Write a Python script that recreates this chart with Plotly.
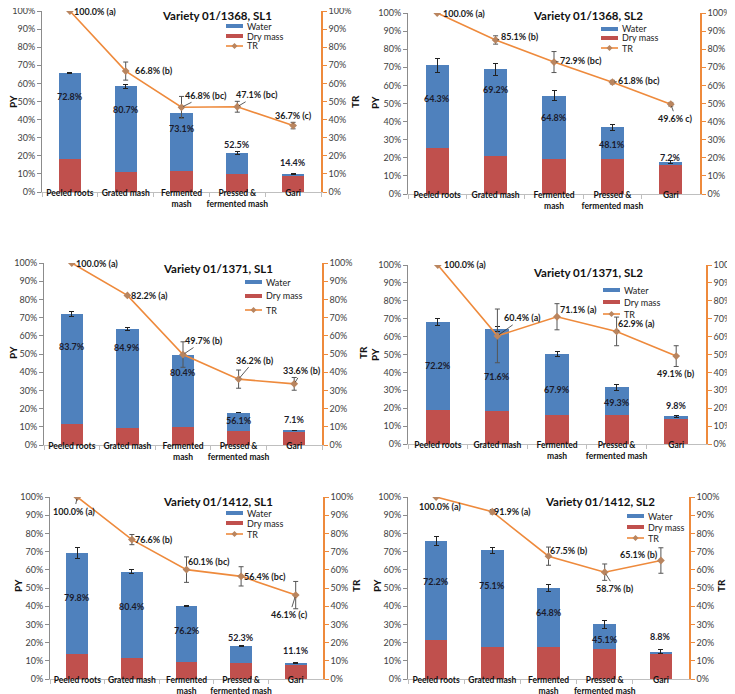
import plotly.graph_objects as go

W, H = 735, 694
FONT = "Lato"

categories = ["Peeled roots", "Grated mash", "Fermented<br>mash", "Pressed &<br>fermented mash", "Gari"]
series_names = ["Water", "Dry mass", "TR"]
tick_vals = [0, 10, 20, 30, 40, 50, 60, 70, 80, 90, 100]
tick_text = ["0%", "10%", "20%", "30%", "40%", "50%", "60%", "70%", "80%", "90%", "100%"]

# ---- Variety 01/1368, SL1
title_1368_sl1 = "Variety 01/1368, SL1"
dry_1368_sl1 = [18.0, 11.3, 11.8, 10.2, 8.7]
water_1368_sl1 = [48.0, 47.0, 31.9, 11.3, 1.5]
py_err_1368_sl1 = [0.3, 1.0, 2.5, 0.8, 0.3]
tr_1368_sl1 = [100.0, 66.8, 46.8, 47.1, 36.7]
tr_err_1368_sl1 = [0, 5.0, 6.0, 3.0, 1.8]
moist_lbl_1368_sl1 = ["72.8%", "80.7%", "73.1%", "52.5%", "14.4%"]
tr_lbl_1368_sl1 = ["100.0% (a)", "66.8% (b)", "46.8% (bc)", "47.1% (bc)", "36.7% (c)"]

# ---- Variety 01/1368, SL2
title_1368_sl2 = "Variety 01/1368, SL2"
dry_1368_sl2 = [25.3, 21.2, 19.1, 19.1, 16.3]
water_1368_sl2 = [45.7, 47.8, 35.2, 17.7, 1.3]
py_err_1368_sl2 = [4.0, 3.3, 2.7, 1.5, 0.8]
tr_1368_sl2 = [100.0, 85.1, 72.9, 61.8, 49.6]
tr_err_1368_sl2 = [0, 2.3, 5.8, 1.0, 1.0]
moist_lbl_1368_sl2 = ["64.3%", "69.2%", "64.8%", "48.1%", "7.2%"]
tr_lbl_1368_sl2 = ["100.0% (a)", "85.1% (b)", "72.9% (bc)", "61.8% (bc)", "49.6% c)"]

# ---- Variety 01/1371, SL1
title_1371_sl1 = "Variety 01/1371, SL1"
dry_1371_sl1 = [11.7, 9.6, 9.7, 7.8, 7.3]
water_1371_sl1 = [60.1, 54.2, 39.8, 10.0, 0.6]
py_err_1371_sl1 = [1.3, 1.0, 0.5, 0.2, 0.2]
tr_1371_sl1 = [100.0, 82.2, 49.7, 36.2, 33.6]
tr_err_1371_sl1 = [0, 0, 7.0, 5.0, 3.5]
moist_lbl_1371_sl1 = ["83.7%", "84.9%", "80.4%", "56.1%", "7.1%"]
tr_lbl_1371_sl1 = ["100.0% (a)", "82.2% (a)", "49.7% (b)", "36.2% (b)", "33.6% (b)"]

# ---- Variety 01/1371, SL2
title_1371_sl2 = "Variety 01/1371, SL2"
dry_1371_sl2 = [18.9, 18.2, 16.1, 16.0, 14.0]
water_1371_sl2 = [49.1, 46.0, 34.2, 15.6, 1.5]
py_err_1371_sl2 = [2.0, 1.5, 1.5, 1.5, 0.5]
tr_1371_sl2 = [100.0, 60.4, 71.1, 62.9, 49.1]
tr_err_1371_sl2 = [0, 15.0, 7.3, 8.0, 5.8]
moist_lbl_1371_sl2 = ["72.2%", "71.6%", "67.9%", "49.3%", "9.8%"]
tr_lbl_1371_sl2 = ["100.0% (a)", "60.4% (a)", "71.1% (a)", "62.9% (a)", "49.1% (b)"]

# ---- Variety 01/1412, SL1
title_1412_sl1 = "Variety 01/1412, SL1"
dry_1412_sl1 = [13.9, 11.6, 9.5, 8.6, 7.7]
water_1412_sl1 = [55.1, 47.4, 30.5, 9.4, 1.0]
py_err_1412_sl1 = [3.0, 1.2, 0.3, 0.4, 0.3]
tr_1412_sl1 = [100.0, 76.6, 60.1, 56.4, 46.1]
tr_err_1412_sl1 = [0, 2.8, 7.0, 5.3, 7.5]
moist_lbl_1412_sl1 = ["79.8%", "80.4%", "76.2%", "52.3%", "11.1%"]
tr_lbl_1412_sl1 = ["100.0% (a)", "76.6% (b)", "60.1% (bc)", "56.4% (bc)", "46.1% (c)"]

# ---- Variety 01/1412, SL2
title_1412_sl2 = "Variety 01/1412, SL2"
dry_1412_sl2 = [21.2, 17.6, 17.6, 16.5, 13.7]
water_1412_sl2 = [54.8, 53.1, 32.4, 13.5, 1.3]
py_err_1412_sl2 = [2.5, 1.5, 2.0, 2.0, 1.2]
tr_1412_sl2 = [100.0, 91.9, 67.5, 58.7, 65.1]
tr_err_1412_sl2 = [0, 1.2, 5.0, 4.5, 7.0]
moist_lbl_1412_sl2 = ["72.2%", "75.1%", "64.8%", "45.1%", "8.8%"]
tr_lbl_1412_sl2 = ["100.0% (a)", "91.9% (a)", "67.5% (b)", "58.7% (b)", "65.1% (b)"]

panels = [
    dict(title=title_1368_sl1, dry=dry_1368_sl1, water=water_1368_sl1, py_err=py_err_1368_sl1,
         tr=tr_1368_sl1, tr_err=tr_err_1368_sl1, mlbl=moist_lbl_1368_sl1, tlbl=tr_lbl_1368_sl1),
    dict(title=title_1368_sl2, dry=dry_1368_sl2, water=water_1368_sl2, py_err=py_err_1368_sl2,
         tr=tr_1368_sl2, tr_err=tr_err_1368_sl2, mlbl=moist_lbl_1368_sl2, tlbl=tr_lbl_1368_sl2),
    dict(title=title_1371_sl1, dry=dry_1371_sl1, water=water_1371_sl1, py_err=py_err_1371_sl1,
         tr=tr_1371_sl1, tr_err=tr_err_1371_sl1, mlbl=moist_lbl_1371_sl1, tlbl=tr_lbl_1371_sl1),
    dict(title=title_1371_sl2, dry=dry_1371_sl2, water=water_1371_sl2, py_err=py_err_1371_sl2,
         tr=tr_1371_sl2, tr_err=tr_err_1371_sl2, mlbl=moist_lbl_1371_sl2, tlbl=tr_lbl_1371_sl2),
    dict(title=title_1412_sl1, dry=dry_1412_sl1, water=water_1412_sl1, py_err=py_err_1412_sl1,
         tr=tr_1412_sl1, tr_err=tr_err_1412_sl1, mlbl=moist_lbl_1412_sl1, tlbl=tr_lbl_1412_sl1),
    dict(title=title_1412_sl2, dry=dry_1412_sl2, water=water_1412_sl2, py_err=py_err_1412_sl2,
         tr=tr_1412_sl2, tr_err=tr_err_1412_sl2, mlbl=moist_lbl_1412_sl2, tlbl=tr_lbl_1412_sl2),
]

# ---- layout geometry (pixels): plot area x0, x1, y_top, y_bottom
geom = [(34, 313, 3, 184), (400, 692, 5, 186),
        (36, 314, 255, 437), (400, 698, 257, 436),
        (42, 315, 489, 671), (400, 681, 489, 671)]
title_pos = [(209, 8), (580, 8), (210, 260), (580, 264), (210, 493), (592, 493)]
# legend: swatch left x, then y of the three rows
legend_rows = [(218, (18, 28, 38)), (593, (21, 30, 40)),
               (237, (274, 288, 302)), (595, (282, 294, 306)),
               (218, (505, 515, 526)), (619, (508, 519, 530))]
py_title_pos = [(5, 94), (367, 95), (5, 345), (367, 347), (10, 578), (369, 578)]
tr_title_pos = [(347, 94), (727, 95), (355, 345), (728, 347), (348, 578), (713, 578)]
# y position (in PY units) of moisture labels
mlbl_y = [[52.8, 45.5, 34.9, 26.2, 16.5],
          [52.5, 57.8, 42.4, 27.1, 20.2],
          [54.1, 53.6, 40.0, 13.2, 13.8],
          [43.9, 37.7, 30.7, 23.0, 21.6],
          [44.8, 40.0, 26.4, 22.9, 15.8],
          [53.8, 51.6, 36.3, 21.6, 23.6]]
# pixel offsets (dx, dy, leader) of TR labels
tlbl_off = [[(25, 1, 0), (28, -1, 0), (24, -12, 1), (20, -12, 1), (0, -10, 1)],
            [(27, 0, 0), (24, -3, 1), (27, -2, 1), (27, -2, 1), (5, 14, 1)],
            [(25, 0, 0), (22, 0, 0), (21, -14, 1), (16, -19, 1), (8, -13, 1)],
            [(27, 0, 0), (25, -18, 1), (21, -7, 0), (20, -8, 1), (0, 17, 0)],
            [(-3, 14, 1), (22, 0, 0), (22, -8, 0), (24, 0, 0), (-6, 19, 1)],
            [(4, 9, 0), (20, 0, 0), (20, -6, 0), (10, 16, 1), (-22, -6, 1)]]

BLUE = "#4F81BD"
RED = "#C0504D"
ORANGE = "#EE8A3C"
MARKER = "#B9855F"

fig = go.Figure()
annotations = []
shapes = []
layout = {}


def px(x):
    return x / W


def py(y):
    return 1 - y / H


for i, p in enumerate(panels, start=1):
    xa = "x" if i == 1 else f"x{i}"
    yl = "y" if i == 1 else f"y{2 * i - 1}"
    yr = f"y{2 * i}"
    x0, x1, yt, yb = geom[i - 1]

    fig.add_trace(go.Bar(x=categories, y=p["dry"], xaxis=xa, yaxis=yl, name=series_names[1],
                         marker=dict(color=RED, line=dict(width=0)), showlegend=False))
    fig.add_trace(go.Bar(x=categories, y=p["water"], xaxis=xa, yaxis=yl, name=series_names[0],
                         marker=dict(color=BLUE, line=dict(width=0)), showlegend=False,
                         error_y=dict(type="data", array=p["py_err"], color="#222222",
                                      thickness=1, width=2.5)))
    fig.add_trace(go.Scatter(x=categories, y=p["tr"], xaxis=xa, yaxis=yr, name=series_names[2],
                             mode="lines+markers", line=dict(color=ORANGE, width=1.6),
                             marker=dict(symbol="diamond", size=6, color=MARKER),
                             error_y=dict(type="data", array=p["tr_err"], color="#555555",
                                          thickness=1, width=2.5),
                             showlegend=False))

    xkey = "xaxis" if i == 1 else f"xaxis{i}"
    ylkey = "yaxis" if i == 1 else f"yaxis{2 * i - 1}"
    yrkey = f"yaxis{2 * i}"
    layout[xkey] = dict(domain=[px(x0), px(x1)], anchor=yl, type="category",
                        categoryorder="array", categoryarray=categories,
                        range=[-0.5, 4.5], showline=True, linecolor="#BFBFBF", linewidth=1,
                        ticks="outside", tickson="boundaries", ticklen=4, tickcolor="#BFBFBF",
                        showgrid=False, zeroline=False, tickangle=0, automargin=False,
                        ticklabeloverflow="allow", ticklabelstandoff=-7,
                        tickfont=dict(family=FONT, size=8.5, color="#111111", weight="bold"))
    layout[ylkey] = dict(domain=[py(yb), py(yt)], anchor=xa, range=[0, 100],
                         tickvals=tick_vals, ticktext=tick_text, showline=True,
                         linecolor="#8C8C8C", linewidth=1, ticks="outside", ticklen=4,
                         tickcolor="#8C8C8C", showgrid=False, zeroline=False, automargin=False,
                         ticklabeloverflow="allow",
                         tickfont=dict(family=FONT, size=9, color="#404040"))
    layout[yrkey] = dict(overlaying=yl, side="right", anchor=xa, range=[0, 100],
                         tickvals=tick_vals, ticktext=tick_text, showline=True,
                         linecolor=ORANGE, linewidth=1.5, ticks="outside", ticklen=4,
                         tickcolor=ORANGE, showgrid=False, zeroline=False, automargin=False,
                         ticklabeloverflow="allow",
                         tickfont=dict(family=FONT, size=9, color="#404040"))

    # compact legend
    sx, rows = legend_rows[i - 1]
    for k, (name, ry) in enumerate(zip(series_names, rows)):
        if k < 2:
            shapes.append(dict(type="rect", xref="paper", yref="paper",
                               x0=px(sx), x1=px(sx + 17), y0=py(ry + 2), y1=py(ry - 2),
                               fillcolor=BLUE if k == 0 else RED, line=dict(width=0)))
        else:
            shapes.append(dict(type="line", xref="paper", yref="paper",
                               x0=px(sx), x1=px(sx + 17), y0=py(ry), y1=py(ry),
                               line=dict(color=ORANGE, width=1.6)))
            cx = sx + 8.5
            shapes.append(dict(type="path", xref="paper", yref="paper",
                               path=f"M{px(cx - 3)},{py(ry)} L{px(cx)},{py(ry - 3)} "
                                    f"L{px(cx + 3)},{py(ry)} L{px(cx)},{py(ry + 3)} Z",
                               fillcolor=MARKER, line=dict(width=0)))
        annotations.append(dict(text=name, x=px(sx + 19), y=py(ry), xref="paper", yref="paper",
                                showarrow=False, xanchor="left", yanchor="middle",
                                font=dict(family=FONT, size=9, color="#222222")))

    tx, ty = title_pos[i - 1]
    annotations.append(dict(text=f"<b>{p['title']}</b>", x=px(tx), y=py(ty), xref="paper",
                            yref="paper", showarrow=False, xanchor="center", yanchor="middle",
                            font=dict(family=FONT, size=11.5, color="#111111")))
    for (ax_, ay_), txt in ((py_title_pos[i - 1], "PY"), (tr_title_pos[i - 1], "TR")):
        annotations.append(dict(text=f"<b>{txt}</b>", x=px(ax_), y=py(ay_), xref="paper",
                                yref="paper", showarrow=False, textangle=-90,
                                xanchor="center", yanchor="middle",
                                font=dict(family=FONT, size=10, color="#111111")))
    for j, c in enumerate(categories):
        annotations.append(dict(text=f"<b>{p['mlbl'][j]}</b>", x=c, y=mlbl_y[i - 1][j],
                                xref=xa, yref=yl, showarrow=False,
                                font=dict(family=FONT, size=9, color="#1B1B2B")))
        dx, dy, lead = tlbl_off[i - 1][j]
        annotations.append(dict(text=f"<b>{p['tlbl'][j]}</b>", x=c, y=p["tr"][j],
                                xref=xa, yref=yr, showarrow=True, arrowhead=0,
                                arrowwidth=0.8, standoff=2,
                                arrowcolor="#333333" if lead else "rgba(0,0,0,0)",
                                ax=dx, ay=dy,
                                font=dict(family=FONT, size=9, color="#1B1B1B")))

fig.update_layout(**layout)
fig.update_layout(width=W, height=H, margin=dict(l=0, r=0, t=0, b=0),
                  paper_bgcolor="white", plot_bgcolor="white", showlegend=False,
                  barmode="stack", bargap=0.6, annotations=annotations, shapes=shapes,
                  font=dict(family=FONT))
fig.write_html("out.html")
